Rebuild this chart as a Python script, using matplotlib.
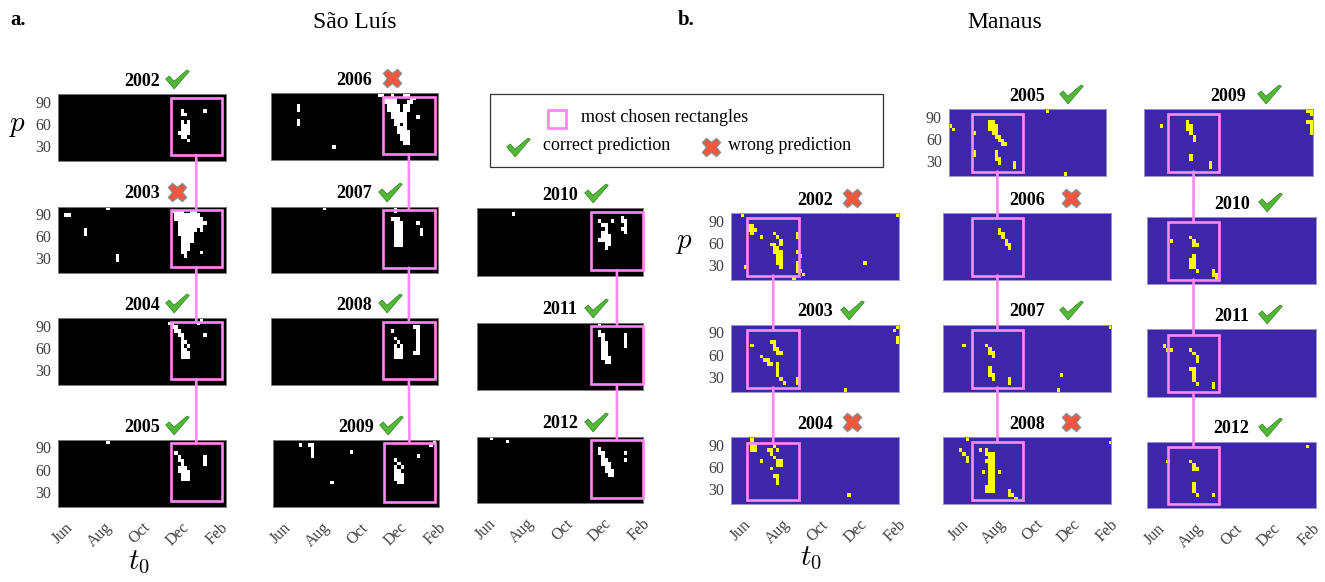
import numpy as np
import matplotlib
matplotlib.use("Agg")
import matplotlib.pyplot as plt
from matplotlib.patches import Rectangle, ConnectionPatch
from matplotlib.colors import ListedColormap
from matplotlib.path import Path

plt.rcParams['font.family'] = ['Liberation Serif', 'DejaVu Serif']
plt.rcParams['mathtext.fontset'] = 'cm'

# ---------------- data ----------------
years_sl = [2002, 2003, 2004, 2005, 2006, 2007, 2008, 2009, 2010, 2011, 2012]
years_mn = [2002, 2003, 2004, 2005, 2006, 2007, 2008, 2009, 2010, 2011, 2012]
correct_sl = [1, 0, 1, 1, 0, 1, 1, 1, 1, 1, 1]
correct_mn = [0, 1, 0, 1, 0, 1, 0, 1, 1, 1, 1]

month_days = [0, 61, 122, 183, 245]
month_labels = ['Jun', 'Aug', 'Oct', 'Dec', 'Feb']
p_ticks = [30, 60, 90]

# most chosen rectangle for each column of panels (t0 in days from Jun 1, p)
rect_sl_t0 = [(167, 248), (159, 240), (164, 246)]
rect_sl_p = (17.5, 95.5)
rect_mn_t0 = [(7, 89), (17.5, 102), (17.3, 99)]
rect_mn_p = (16, 93)

# selected cells: (row from top, first col, last col)
sl_2002 = [(4, 38), (5, 38, 39), (4, 45), (7, 38), (7, 40), (8, 38, 40), (9, 38, 40),
           (10, 37, 40), (11, 38, 39), (12, 40)]
sl_2003 = [(2, 2, 3), (0, 15), (6, 8), (7, 8), (13, 18), (14, 18),
           (1, 35, 38), (1, 41, 42), (2, 36, 43), (3, 36, 44), (4, 37, 45), (5, 37, 44),
           (6, 37, 42), (6, 44), (7, 37, 41), (8, 38, 41), (9, 38, 41), (10, 38, 40),
           (11, 38, 40), (12, 38, 39), (12, 44), (13, 39)]
sl_2004 = [(1, 34, 35), (2, 35, 36), (3, 36, 37), (4, 37, 38), (5, 38), (6, 38, 39), (7, 38),
           (7, 40), (8, 38, 39), (9, 38, 40), (10, 38, 40), (0, 44), (1, 43), (4, 45)]
sl_2005 = [(0, 15), (3, 36), (4, 37), (5, 37, 38), (6, 38), (7, 37, 39), (8, 37, 40),
           (9, 38, 40), (10, 38, 40), (4, 45), (5, 45), (6, 45)]
sl_2006 = [(3, 8), (4, 8), (7, 8), (8, 8), (14, 19), (0, 33, 34), (0, 37), (0, 41, 42),
           (1, 35, 38), (1, 43, 44), (2, 35, 38), (2, 42, 43), (3, 36, 39), (3, 41, 42),
           (4, 36, 39), (4, 41, 42), (5, 37, 41), (6, 37, 41), (6, 45), (7, 38, 41),
           (8, 38, 39), (8, 41), (9, 39, 41), (10, 39, 42), (11, 40, 42), (12, 40, 42),
           (13, 41, 42)]
sl_2007 = [(0, 16), (0, 38), (1, 38), (3, 37, 39), (4, 38, 40), (5, 38, 40), (6, 38, 40),
           (7, 38, 40), (8, 38, 40), (9, 38, 40), (10, 38, 40), (4, 45), (6, 46), (7, 46)]
sl_2008 = [(3, 37), (5, 38), (6, 39), (7, 38), (7, 40), (8, 38, 40), (9, 38, 40), (10, 38, 40),
           (2, 44, 45), (3, 45), (4, 45), (5, 45), (6, 45), (7, 45), (8, 45), (9, 44, 45)]
sl_2009 = [(1, 8), (1, 11, 12), (2, 12), (3, 12), (4, 12), (3, 24), (11, 18), (5, 38), (6, 39),
           (7, 38), (7, 40), (8, 38, 39), (9, 38, 40), (10, 38, 40), (11, 39, 40), (4, 45),
           (0, 50), (1, 49)]
sl_2010 = [(1, 11), (3, 38), (3, 42), (4, 39, 40), (5, 40), (6, 39, 40), (7, 39, 41),
           (8, 38, 41), (9, 40, 41), (10, 40), (2, 45), (3, 45, 46), (4, 46), (5, 45, 46), (6, 46)]
sl_2011 = [(0, 38), (2, 38), (3, 38, 39), (4, 39), (5, 39, 40), (6, 39, 40), (7, 39, 40),
           (8, 39, 40), (9, 39, 41), (10, 40, 41), (3, 46), (4, 46), (5, 46), (6, 46)]
sl_2012 = [(0, 4), (1, 9), (3, 38), (4, 38, 39), (5, 39), (6, 39, 40), (7, 39, 41),
           (8, 40, 41), (9, 40, 42), (10, 41, 42), (4, 46), (6, 46)]

mn_2002 = [(0, 3), (0, 51), (3, 5, 6), (4, 5, 7), (5, 6), (6, 9), (5, 13), (6, 14), (7, 15),
           (8, 12, 13), (8, 15), (9, 13, 14), (10, 13, 15), (11, 14, 15), (12, 14, 15),
           (13, 14, 15), (14, 15), (5, 20), (6, 20), (10, 20), (13, 20), (14, 20), (15, 20),
           (11, 21), (15, 21), (16, 22), (17, 19), (14, 4), (13, 41)]
mn_2003 = [(5, 6), (4, 12, 13), (5, 13), (6, 13, 14), (7, 14, 15), (8, 9), (9, 10, 11),
           (10, 11, 12), (10, 14), (11, 14), (12, 14), (13, 14), (14, 15), (15, 16), (14, 20),
           (15, 20), (1, 50), (0, 51), (3, 51), (4, 51), (17, 35)]
mn_2004 = [(0, 6), (1, 6), (2, 6, 7), (3, 6, 7), (3, 11, 12), (4, 12), (2, 13), (3, 14),
           (5, 13), (6, 14, 15), (7, 14, 15), (6, 9), (8, 12), (10, 13, 14), (11, 14),
           (12, 14), (15, 36)]
mn_2005 = [(4, 0), (5, 1), (6, 8), (3, 13, 14), (4, 13, 15), (5, 13, 15), (6, 14, 15),
           (7, 15, 16), (8, 16, 17), (9, 17, 18), (11, 8), (12, 8), (11, 15), (12, 15),
           (13, 15, 16), (14, 16), (14, 21), (15, 21), (0, 32), (17, 38)]
mn_2006 = [(4, 17), (5, 17, 18), (6, 18), (7, 19), (8, 19, 20), (9, 20)]
mn_2007 = [(5, 6), (5, 13), (6, 14), (7, 14, 15), (8, 15), (11, 14), (12, 14), (13, 14, 15),
           (14, 15), (14, 20), (15, 20), (13, 36), (17, 35), (0, 51)]
mn_2008 = [(0, 7), (3, 5), (4, 6), (5, 7), (6, 7), (3, 11), (3, 13), (4, 13, 15), (5, 14, 15),
           (6, 13, 15), (7, 14, 15), (8, 14, 15), (9, 12), (9, 14, 15), (9, 17), (10, 14, 15),
           (11, 14, 15), (12, 14, 15), (13, 13, 15), (14, 13, 15), (14, 20), (15, 20, 21),
           (16, 22), (1, 51)]
mn_2009 = [(4, 5), (3, 13), (4, 13, 14), (5, 13, 14), (6, 14), (7, 15), (8, 15), (12, 14),
           (13, 14), (14, 20), (15, 20), (0, 50, 51), (1, 51), (3, 50, 51), (4, 51), (5, 51),
           (6, 51)]
mn_2010 = [(6, 7), (5, 13), (6, 14), (7, 14, 15), (10, 14), (11, 13, 14), (12, 13, 14),
           (13, 13, 14), (14, 15), (14, 20), (15, 20, 21), (16, 21)]
mn_2011 = [(4, 5), (5, 6, 7), (5, 13), (6, 14), (7, 15), (8, 15), (10, 13, 14), (11, 14),
           (12, 14), (13, 14), (14, 15), (14, 20), (15, 20)]
mn_2012 = [(5, 6), (5, 13), (6, 14), (7, 14, 15), (11, 14), (12, 14), (13, 14), (14, 15),
           (14, 20), (1, 49)]

cells_sl = [sl_2002, sl_2003, sl_2004, sl_2005, sl_2006, sl_2007, sl_2008, sl_2009,
            sl_2010, sl_2011, sl_2012]
cells_mn = [mn_2002, mn_2003, mn_2004, mn_2005, mn_2006, mn_2007, mn_2008, mn_2009,
            mn_2010, mn_2011, mn_2012]

# ---------------- layout (pixels: left, top, right, bottom) ----------------
W, H = 1325, 582
N_ROWS, N_COLS = 18, 52
P_MIN, P_MAX = 10, 100

boxes_sl = [(58, 94.3, 226, 160.7), (58, 206.7, 226, 273), (58, 318.3, 226, 385),
            (58, 440, 226, 507), (270.7, 93.3, 438.3, 160), (270.7, 206.7, 438.3, 273.3),
            (270.7, 318.3, 438.3, 385), (273.3, 440, 439.3, 507.3), (477.3, 208.3, 642.7, 276),
            (477.3, 322.7, 642.7, 390), (477.3, 436.7, 642.7, 503.3)]
xlims_sl = [(-11, 254.5)] * 4 + [(-19, 246)] * 3 + [(-15.8, 246.6)] + [(-17, 246)] * 3
cols_sl = [[0, 1, 2, 3], [4, 5, 6, 7], [8, 9, 10]]
ylab_sl = [0, 1, 2, 3]
mark_off_sl = [35, 35, 35, 35, 37, 35, 35, 35, 36, 36, 36]

boxes_mn = [(731, 213.3, 899, 280), (731, 325, 899, 392), (731, 437.3, 899, 504.3),
            (948.7, 109.3, 1105.7, 176), (942.7, 213.3, 1111, 280), (942.7, 325, 1111, 392),
            (942.7, 437.3, 1111, 504), (1144.3, 109.3, 1312.7, 176), (1147.3, 217.3, 1316, 284),
            (1147.3, 329.3, 1316, 396.7), (1147.3, 441.7, 1316, 508.3)]
xlims_mn = [(-18.5, 246)] * 3 + [(-20.1, 237.4)] + [(-30, 246)] * 3 + [(-19.7, 246.4)] \
    + [(-14.9, 251.6)] * 3
cols_mn = [[0, 1, 2], [3, 4, 5, 6], [7, 8, 9, 10]]
ylab_mn = [0, 1, 2, 3]
mark_off_mn = [37, 37, 37, 44, 44, 44, 44, 40, 38, 38, 38]

PINK = '#FF88F2'
GREEN = '#52B934'
RED = '#F4553B'
CHECK = Path([(-1.0, 0.05), (-0.7, 0.3), (-0.3, -0.15), (0.8, 0.8), (1.0, 0.7),
              (-0.28, -0.8), (-1.0, 0.05)],
             [Path.MOVETO] + [Path.LINETO] * 5 + [Path.CLOSEPOLY])

fig = plt.figure(figsize=(W / 100, H / 100), dpi=100)


def cell_matrix(runs):
    m = np.zeros((N_ROWS, N_COLS))
    for run in runs:
        c1 = run[2] if len(run) > 2 else run[1]
        m[run[0], run[1]:c1 + 1] = 1
    return m


def draw_panel(box, xlim, runs, colors, edge, rect_t0, rect_p, ylabels, xlabels):
    L, T, R, B = box
    ax = fig.add_axes([L / W, 1 - B / H, (R - L) / W, (B - T) / H])
    ax.imshow(cell_matrix(runs), cmap=ListedColormap(colors), vmin=0, vmax=1,
              extent=(xlim[0], xlim[1], P_MIN, P_MAX), origin='upper', aspect='auto',
              interpolation='nearest')
    ax.add_patch(Rectangle((rect_t0[0], rect_p[0]), rect_t0[1] - rect_t0[0],
                           rect_p[1] - rect_p[0], fill=False, ec=PINK, lw=1.9,
                           clip_on=False, zorder=5))
    for s in ax.spines.values():
        s.set_color(edge)
        s.set_linewidth(0.7)
    ax.set_xticks(month_days)
    ax.set_yticks(p_ticks)
    ax.set_xlim(*xlim)
    ax.set_ylim(P_MIN, P_MAX)
    ax.tick_params(length=0, colors='#404040', labelsize=11.5)
    if xlabels:
        ax.set_xticklabels(month_labels, rotation=45, ha='right', va='top',
                           rotation_mode='anchor')
        ax.tick_params(axis='x', pad=9)
    else:
        ax.set_xticklabels([])
    if ylabels:
        ax.set_yticklabels([str(v) for v in p_ticks])
        ax.tick_params(axis='y', pad=5)
    else:
        ax.set_yticklabels([])
    return ax


def draw_city(boxes, xlims, cells, colors, edge, rect_t0, rect_p, cols, ylab):
    bottoms = [c[-1] for c in cols]
    for c, r_t0 in zip(cols, rect_t0):
        axes = [draw_panel(boxes[i], xlims[i], cells[i], colors, edge, r_t0, rect_p,
                           i in ylab, i in bottoms) for i in c]
        xc = (r_t0[0] + r_t0[1]) / 2
        for a, b in zip(axes[:-1], axes[1:]):
            con = ConnectionPatch(xyA=(xc, rect_p[0]), coordsA='data', axesA=a,
                                  xyB=(xc, rect_p[1]), coordsB='data', axesB=b,
                                  color=PINK, lw=1.9, zorder=3)
            fig.add_artist(con)


draw_city(boxes_sl, xlims_sl, cells_sl, ['#000000', '#FFFFFF'], '#7a7a7a',
          rect_sl_t0, rect_sl_p, cols_sl, ylab_sl)
draw_city(boxes_mn, xlims_mn, cells_mn, ['#3E26A8', '#F9FB0E'], '#9a92d0',
          rect_mn_t0, rect_mn_p, cols_mn, ylab_mn)

# overlay in pixel coordinates for titles, markers, legend
ov = fig.add_axes([0, 0, 1, 1])
ov.set_xlim(0, W)
ov.set_ylim(H, 0)
ov.axis('off')


def mark(x, y, ok):
    if ok:
        ov.plot(x, y, marker=CHECK, ms=17, color=GREEN, mec='#2E7D22', mew=0.5, ls='none')
    else:
        ov.plot(x, y, marker='X', ms=13, color=RED, mec='#8c8c8c', mew=1.0, ls='none')


for boxes, years, correct, offs in [(boxes_sl, years_sl, correct_sl, mark_off_sl),
                                    (boxes_mn, years_mn, correct_mn, mark_off_mn)]:
    for box, yr, ok, off in zip(boxes, years, correct, offs):
        cx = (box[0] + box[2]) / 2
        ov.text(cx, box[1] - 13, str(yr), fontsize=13, fontweight='bold',
                ha='center', va='center')
        mark(cx + off, box[1] - 15, ok)

# headings and axis labels
ov.text(10, 20, 'a.', fontsize=15, fontweight='bold', ha='left', va='center')
ov.text(355, 22, 'São Luís', fontsize=17, ha='center', va='center')
ov.text(678, 20, 'b.', fontsize=15, fontweight='bold', ha='left', va='center')
ov.text(1005, 22, 'Manaus', fontsize=17, ha='center', va='center')
ov.text(17, 126, '$p$', fontsize=21, ha='center', va='center')
ov.text(684, 243, '$p$', fontsize=21, ha='center', va='center')
ov.text(139, 562, '$t_0$', fontsize=21, ha='center', va='center')
ov.text(811, 558, '$t_0$', fontsize=21, ha='center', va='center')

# legend box
ov.add_patch(Rectangle((490, 93.5), 392.5, 73.5, fill=True, fc='white', ec='#333333', lw=0.9))
ov.add_patch(Rectangle((547.5, 110), 18, 17.5, fill=False, ec=PINK, lw=2))
ov.text(581, 118, 'most chosen rectangles', fontsize=13, ha='left', va='center')
mark(518, 147, 1)
ov.text(543, 146, 'correct prediction', fontsize=13, ha='left', va='center')
mark(711, 147, 0)
ov.text(728, 146, 'wrong prediction', fontsize=13, ha='left', va='center')

fig.savefig('out.png', dpi=100)
